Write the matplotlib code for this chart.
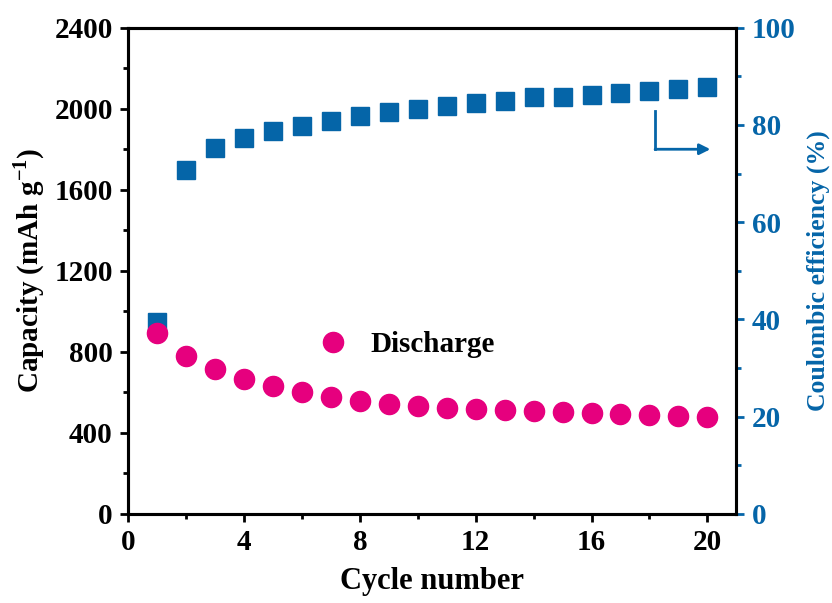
import matplotlib
matplotlib.use('Agg')
import matplotlib.pyplot as plt
from matplotlib.ticker import MultipleLocator

plt.rcParams['font.family'] = 'Liberation Serif'
plt.rcParams['font.weight'] = 'bold'
plt.rcParams['mathtext.fontset'] = 'custom'
plt.rcParams['mathtext.rm'] = 'Liberation Serif:bold'
plt.rcParams['mathtext.bf'] = 'Liberation Serif:bold'

cycles = list(range(1, 21))
discharge = [894, 780, 716, 667, 632, 602, 578, 558, 543, 533,
             523, 518, 514, 509, 504, 499, 494, 489, 484, 476]
efficiency = [39.5, 70.8, 75.3, 77.4, 78.8, 79.8, 80.9, 81.9, 82.7, 83.3,
              84.0, 84.6, 85.0, 85.8, 85.8, 86.2, 86.6, 87.0, 87.4, 87.9]

pink = '#e6007e'
blue = '#0565a8'

fig = plt.figure(figsize=(8.32, 6.03), dpi=100)
ax = fig.add_axes([0.154, 0.148, 0.731, 0.806])
ax2 = ax.twinx()

ax2.plot(cycles, efficiency, 's', color=blue, markersize=13, zorder=2)
ax.plot(cycles, discharge, 'o', color=pink, markersize=14.5, zorder=3,
        label='Discharge')
ax.set_zorder(ax2.get_zorder() + 1)
ax.patch.set_visible(False)

ax.set_xlim(0, 21)
ax.set_ylim(0, 2400)
ax2.set_ylim(0, 100)
ax.xaxis.set_major_locator(MultipleLocator(4))
ax.xaxis.set_minor_locator(MultipleLocator(2))
ax.yaxis.set_major_locator(MultipleLocator(400))
ax.yaxis.set_minor_locator(MultipleLocator(200))
ax2.yaxis.set_major_locator(MultipleLocator(20))
ax2.yaxis.set_minor_locator(MultipleLocator(10))

for a in (ax, ax2):
    for s in a.spines.values():
        s.set_linewidth(2.2)
ax2.spines['right'].set_color(blue)

ax.tick_params(axis='both', which='major', direction='out', length=6,
               width=2, labelsize=21, pad=5)
ax.tick_params(axis='both', which='minor', direction='out', length=3.5,
               width=2)
ax2.tick_params(axis='y', which='major', direction='out', length=6,
                width=2, labelsize=21, colors=blue, pad=5)
ax2.tick_params(axis='y', which='minor', direction='out', length=3.5,
                width=2, colors=blue)

ax.set_xlabel('Cycle number', fontsize=22, fontweight='bold', labelpad=8)
ax.set_ylabel(r'Capacity (mAh g$^{-1}$)', fontsize=21, fontweight='bold',
              labelpad=5)
ax2.set_ylabel('Coulombic efficiency (%)', fontsize=18.5, fontweight='bold',
               color=blue, labelpad=8)

ax.legend(loc='upper left', bbox_to_anchor=(0.245, 0.43), frameon=False,
          fontsize=21, handletextpad=0.3, markerscale=1.0)

# arrow pointing to the right axis
ax2.plot([18.2, 18.2], [82.9, 75.0], color=blue, lw=2)
ax2.annotate('', xy=(20.2, 75.0), xytext=(18.1, 75.0),
             arrowprops=dict(arrowstyle='-|>', color=blue, lw=2,
                             mutation_scale=16))

fig.savefig('out.png', dpi=100)
